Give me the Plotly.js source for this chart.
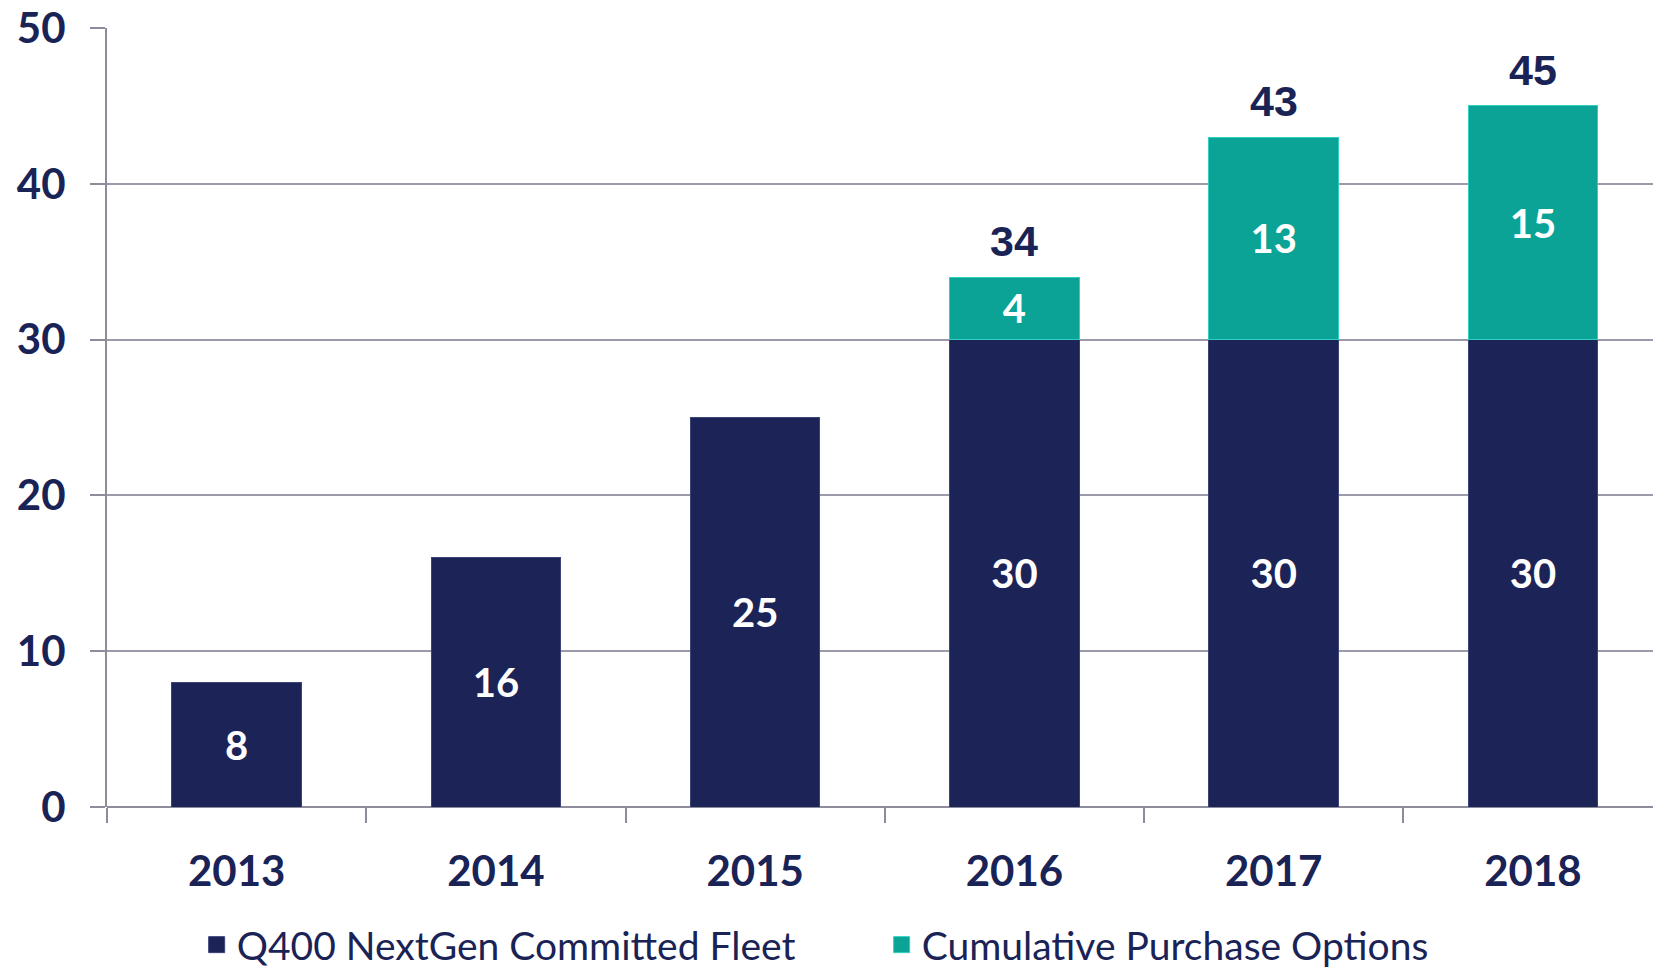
<!DOCTYPE html>
<html>
<head>
<meta charset="utf-8">
<script src="https://cdn.plot.ly/plotly-3.0.1.min.js"></script>
<style>html,body{margin:0;padding:0;background:#fff;}#chart{width:1653px;height:973px;}</style>
</head>
<body>
<div id="chart"></div>
<script>
const years = ['2013', '2014', '2015', '2016', '2017', '2018'];
const committedFleet = [8, 16, 25, 30, 30, 30];
const purchaseOptions = [null, null, null, 4, 13, 15];
const totals = [null, null, null, 34, 43, 45];
const yTicks = [0, 10, 20, 30, 40, 50];
const seriesNames = ['Q400 NextGen Committed Fleet', 'Cumulative Purchase Options'];

const navy = '#1c2457';
const teal = '#0aa395';
const textNavy = '#1a2356';
const fontMain = 'Lato, "Open Sans", sans-serif';

const traces = [
  {
    type: 'bar', name: seriesNames[0], showlegend: false,
    x: years, y: committedFleet, width: 0.5,
    marker: {color: navy, line: {color: '#3a4478', width: 1}},
    text: committedFleet.map(String), textposition: 'inside', insidetextanchor: 'middle',
    textfont: {family: fontMain, size: 40, color: '#ffffff', weight: 'bold'},
    hoverinfo: 'skip'
  },
  {
    type: 'bar', name: seriesNames[1], showlegend: false,
    x: years, y: purchaseOptions, width: 0.5,
    marker: {color: teal, line: {color: '#2fd0c2', width: 1}},
    text: purchaseOptions.map(v => v == null ? '' : String(v)), textposition: 'inside', insidetextanchor: 'middle',
    textfont: {family: fontMain, size: 40, color: '#ffffff', weight: 'bold'},
    hoverinfo: 'skip'
  },
  {
    type: 'scatter', mode: 'markers', name: seriesNames[0], x: [null], y: [null],
    marker: {symbol: 'square', size: 22, color: navy, line: {color: '#3a4478', width: 1}},
    hoverinfo: 'skip'
  },
  {
    type: 'scatter', mode: 'markers', name: seriesNames[1], x: [null], y: [null],
    marker: {symbol: 'square', size: 22, color: teal, line: {color: '#2fd0c2', width: 1}},
    hoverinfo: 'skip'
  }
];

const annotations = [];
years.forEach((yr, i) => {
  if (totals[i] != null) {
    annotations.push({
      x: i, y: totals[i], xref: 'x', yref: 'y', text: String(totals[i]),
      showarrow: false, yanchor: 'bottom', yshift: 10,
      font: {family: '"Liberation Sans", Arial, sans-serif', size: 43, color: textNavy, weight: 'bold'}
    });
  }
});

const layout = {
  width: 1653, height: 973,
  margin: {l: 107, r: 0, t: 28, b: 166},
  paper_bgcolor: '#ffffff', plot_bgcolor: '#ffffff',
  barmode: 'stack',
  showlegend: true,
  legend: {
    orientation: 'h', x: 0.058, xanchor: 'left',
    yref: 'container', y: 0.029, yanchor: 'middle',
    font: {family: fontMain, size: 39, color: textNavy},
    entrywidth: 640, entrywidthmode: 'pixels', itemwidth: 30,
    itemsizing: 'trace', traceorder: 'normal'
  },
  xaxis: {
    type: 'category', range: [-0.5, 5.463],
    showline: false, showgrid: false, zeroline: false, automargin: false,
    ticks: 'outside', ticklen: 15, tickwidth: 2, tickcolor: '#8c8c9c', tickson: 'boundaries',
    tickfont: {family: fontMain, size: 42, color: textNavy, weight: 'bold'},
    ticklabelstandoff: 36
  },
  yaxis: {
    range: [0, 50], tickvals: yTicks, ticktext: yTicks.map(String), automargin: false,
    showline: true, linecolor: '#8c8c9c', linewidth: 2,
    showgrid: true, gridcolor: '#9a9aa8', gridwidth: 2,
    zeroline: true, zerolinecolor: '#8c8c9c', zerolinewidth: 2,
    ticks: 'outside', ticklen: 15, tickwidth: 2, tickcolor: '#8c8c9c',
    tickfont: {family: fontMain, size: 42, color: textNavy, weight: 'bold'},
    ticklabelstandoff: 16
  },
  annotations: annotations,
  bargap: 0.5
};

Plotly.newPlot('chart', traces, layout, {displayModeBar: false, staticPlot: true});
</script>
</body>
</html>
